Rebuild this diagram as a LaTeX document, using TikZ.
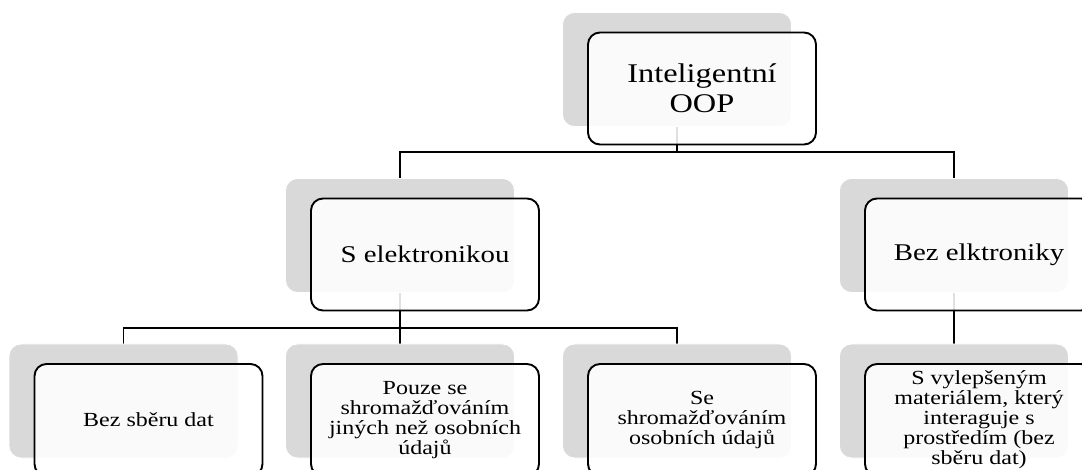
\documentclass[tikz,border=0pt]{standalone}
\usepackage{fontspec}
\setmainfont{Liberation Serif}[FakeStretch=1.2]
\pgfdeclarelayer{bg}
\pgfsetlayers{bg,main}
\begin{document}
\begin{tikzpicture}[x=1pt,y=-1pt,
  back/.style={draw=white,line width=0.8pt,fill=black!15,rounded corners=12pt,
    minimum width=229pt,minimum height=114pt,inner sep=0pt},
  card/.style={draw=black,line width=1.9pt,fill=white,fill opacity=0.88,text opacity=1,
    rounded corners=12pt,minimum width=228pt,minimum height=112pt,inner sep=0pt,align=center},
  link/.style={line width=1.9pt}]
  \useasboundingbox (0,0) rectangle (1082,470);
  \clip (0,0) rectangle (1082,470);
  \node[back] (gtop) at (677,69.5) {};
  \node[card,font=\fontsize{27}{30}\selectfont] (top) at ([shift={(25,19)}]gtop.center) {Inteligentní\\OOP};
  \node[back] (gwith) at (400,235.5) {};
  \node[card,font=\fontsize{24}{28}\selectfont] (with) at ([shift={(25,19)}]gwith.center) {S elektronikou};
  \node[back] (gwithout) at (954,235.5) {};
  \node[card,font=\fontsize{24}{28}\selectfont] (without) at ([shift={(25,19)}]gwithout.center) {Bez elktroniky};
  \foreach \n/\x/\txt in {1/123.5/{Bez sběru dat},
      2/400/{Pouze se\\shromažďováním\\jiných než osobních\\údajů},
      3/677/{Se\\shromažďováním\\osobních údajů},
      4/954/{S vylepšeným\\materiálem, který\\interaguje s\\prostředím (bez\\sběru dat)}} {
    \node[back] (g\n) at (\x,401) {};
    \node[card,font=\fontsize{20}{20}\selectfont] (b\n) at ([shift={(25,19)}]g\n.center) {\txt};
  }
  \coordinate (j1) at (677,152);
  \coordinate (j2) at (400,328);
  \begin{pgfonlayer}{bg}
    \draw[link] (gtop.south) -- (j1) -| (gwith.north);
    \draw[link] (j1) -| (gwithout.north);
    \draw[link] (gwith.south) -- (j2) -| (g1.north);
    \draw[link] (j2) -| (g3.north);
    \draw[link] (j2) -- (g2.north);
    \draw[link] (gwithout.south) -- (g4.north);
  \end{pgfonlayer}
\end{tikzpicture}
\end{document}
